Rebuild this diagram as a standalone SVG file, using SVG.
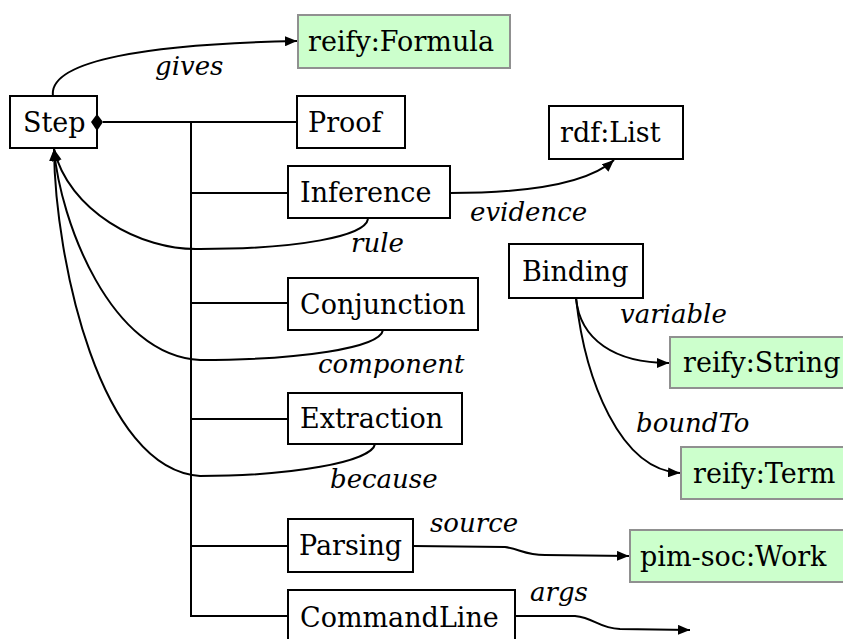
<svg xmlns="http://www.w3.org/2000/svg" width="843" height="639" viewBox="0 0 843 639">
<style>
.box{fill:#fff;stroke:#000;stroke-width:2}
.lit{fill:#ccffcc;stroke:#909090;stroke-width:2}
.t{font-family:"DejaVu Serif","Liberation Serif",serif;font-size:27px;fill:#000}
.lbl{font-family:"DejaVu Serif","Liberation Serif",serif;font-style:italic;font-size:26px;fill:#000}
.ln{fill:none;stroke:#000;stroke-width:2}
.cv{fill:none;stroke:#000;stroke-width:2}
</style>
<defs>
<marker id="arr" viewBox="0 0 12 10" refX="12" refY="5" markerWidth="12" markerHeight="10" markerUnits="userSpaceOnUse" orient="auto">
<path d="M0,0 L12,5 L0,10 Z" fill="#000"/>
</marker>
</defs>
<rect width="843" height="639" fill="#fff"/>
<g id="formula"><rect class="lit" x="298" y="15" width="212" height="53"/><text class="t" x="308" y="51">reify:Formula</text></g>
<g id="step"><rect class="box" x="10" y="96" width="87" height="52"/><text class="t" x="23" y="132">Step</text></g>
<g id="proof"><rect class="box" x="297" y="96" width="108" height="52"/><text class="t" x="308" y="132">Proof</text></g>
<g id="rdflist"><rect class="box" x="549" y="106" width="134" height="53"/><text class="t" x="560" y="142">rdf:List</text></g>
<g id="inference"><rect class="box" x="288" y="166" width="162" height="52"/><text class="t" x="300" y="202">Inference</text></g>
<g id="binding"><rect class="box" x="509" y="244" width="134" height="54"/><text class="t" x="522" y="281">Binding</text></g>
<g id="conjunction"><rect class="box" x="288" y="278" width="190" height="52"/><text class="t" x="300" y="314">Conjunction</text></g>
<g id="string"><rect class="lit" x="670" y="337" width="180" height="51"/><text class="t" x="683" y="372">reify:String</text></g>
<g id="extraction"><rect class="box" x="288" y="393" width="174" height="51"/><text class="t" x="300" y="428">Extraction</text></g>
<g id="term"><rect class="lit" x="681" y="447" width="170" height="52"/><text class="t" x="693" y="483">reify:Term</text></g>
<g id="parsing"><rect class="box" x="288" y="519" width="125" height="53"/><text class="t" x="299" y="555">Parsing</text></g>
<g id="work"><rect class="lit" x="630" y="530" width="220" height="52"/><text class="t" x="640" y="566">pim-soc:Work</text></g>
<g id="commandline"><rect class="box" x="288" y="590" width="227" height="60"/><text class="t" x="300" y="627">CommandLine</text></g>
<g id="connectors">
<polyline class="ln" points="103,122 297,122"/>
<polyline class="ln" points="191,122 191,616 288,616"/>
<polyline class="ln" points="191,193 288,193"/>
<polyline class="ln" points="191,303 288,303"/>
<polyline class="ln" points="191,419 288,419"/>
<polyline class="ln" points="191,546 288,546"/>
<polygon points="91,122 97,114 103,122 97,131" fill="#000"/>
<path class="cv" d="M53,96 C48,60 150,44 297,41" marker-end="url(#arr)"/>
<path class="cv" d="M450,193 C520,193 585,186 614,160" marker-end="url(#arr)"/>
<path class="cv" d="M368,219 C365,236 300,249 200,249 C140,251 68,210 54,149" marker-end="url(#arr)"/>
<path class="cv" d="M383,330 C380,348 300,360 200,360 C110,356 60,220 54,149" marker-end="url(#arr)"/>
<path class="cv" d="M375,444 C372,462 290,476 200,476 C100,470 55,260 54,149" marker-end="url(#arr)"/>
<path class="cv" d="M576,298 C580,340 615,363 669,363" marker-end="url(#arr)"/>
<path class="cv" d="M576,298 C585,380 620,470 680,473" marker-end="url(#arr)"/>
<path class="cv" d="M413,546 L505,547 C520,549 525,555 545,555 L629,556" marker-end="url(#arr)"/>
<path class="cv" d="M515,616 L575,616 C595,618 598,628 620,629 L690,630" marker-end="url(#arr)"/>
<text class="lbl" x="155" y="75">gives</text>
<text class="lbl" x="470" y="221">evidence</text>
<text class="lbl" x="351" y="252">rule</text>
<text class="lbl" x="318" y="373">component</text>
<text class="lbl" x="330" y="488">because</text>
<text class="lbl" x="620" y="323">variable</text>
<text class="lbl" x="636" y="432">boundTo</text>
<text class="lbl" x="430" y="532">source</text>
<text class="lbl" x="530" y="601">args</text>
</g>
</svg>
